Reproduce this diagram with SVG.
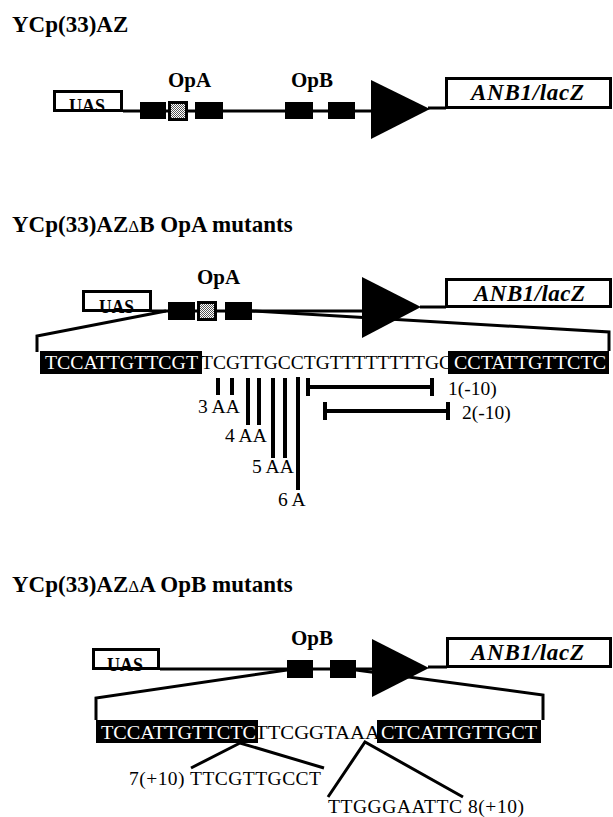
<svg xmlns="http://www.w3.org/2000/svg" width="613" height="817" viewBox="0 0 613 817">
<style>
text{font-family:"Liberation Serif","Times New Roman",serif;fill:#000}
.title{font-weight:bold;font-size:23px}
.op{font-weight:bold;font-size:21px}
.uas{font-weight:bold;font-size:19px}
.gene{font-weight:bold;font-style:italic;font-size:23px}
.seq{font-size:19.5px}
.w{fill:#fff}
.delta{font-weight:normal;font-size:17px}
.box{fill:#fff;stroke:#000;stroke-width:3}
.blk{fill:#000}
.hat{fill:url(#dots);stroke:#000;stroke-width:3}
.ln{fill:none;stroke:#000;stroke-width:3}
.bar{fill:none;stroke:#000;stroke-width:4}
</style>
<defs>
<pattern id="dots" width="2" height="2" patternUnits="userSpaceOnUse">
<rect width="2" height="2" fill="#fff"/>
<rect width="1" height="1" fill="#555"/>
<rect x="1" y="1" width="1" height="1" fill="#555"/>
</pattern>
</defs>

<!-- Section 1 -->
<g id="title1"><text class="title" x="12" y="32">YCp(33)AZ</text></g>
<g id="labels1">
<text class="op" x="168" y="87">OpA</text>
<text class="op" x="291" y="87">OpB</text>
</g>
<g id="connectors1">
<path class="ln" d="M123 111 H372"/>
<path class="ln" d="M428 108 H446"/>
</g>
<g id="uas1"><rect class="box" x="54.5" y="91.5" width="67" height="19"/><text class="uas" x="69" y="112" textLength="36" lengthAdjust="spacingAndGlyphs">UAS</text><path class="ln" d="M53 110.5 H123"/></g>
<g id="opa1">
<rect class="blk" x="140" y="102" width="26" height="17"/>
<rect class="hat" x="169.5" y="102.5" width="17" height="17"/>
<rect class="blk" x="195" y="102" width="28" height="17"/>
</g>
<g id="opb1">
<rect class="blk" x="285" y="102" width="28" height="17"/>
<rect class="blk" x="328" y="102" width="27" height="17"/>
</g>
<g id="prom1"><polygon class="blk" points="371,80 430,109 371,139"/></g>
<g id="gene1"><rect class="box" x="446.5" y="78.5" width="164" height="29"/><text class="gene" x="471" y="100" textLength="113">ANB1/lacZ</text></g>

<!-- Section 2 -->
<g id="title2"><text class="title" x="12" y="232">YCp(33)AZ<tspan class="delta">Δ</tspan>B OpA mutants</text></g>
<g id="labels2"><text class="op" x="197" y="284">OpA</text></g>
<g id="connectors2">
<path class="ln" d="M152 311 H363"/>
<path class="ln" d="M420 307 H446"/>
<path class="ln" d="M166 311 L37 336 V352"/>
<path class="ln" d="M252 311 L609 332 V351"/>
</g>
<g id="uas2"><rect class="box" x="83.5" y="291.5" width="67" height="19"/><text class="uas" x="99" y="313" textLength="35" lengthAdjust="spacingAndGlyphs">UAS</text><path class="ln" d="M82 310.5 H152"/></g>
<g id="opa2">
<rect class="blk" x="168" y="302" width="27" height="18"/>
<rect class="hat" x="198.5" y="302.5" width="17" height="17"/>
<rect class="blk" x="225" y="302" width="27" height="18"/>
</g>
<g id="prom2"><polygon class="blk" points="362,277 421,307 362,338"/></g>
<g id="gene2"><rect class="box" x="446.5" y="279.5" width="164" height="27"/><text class="gene" x="474" y="301" textLength="111">ANB1/lacZ</text></g>

<g id="seq2">
<text class="seq" x="201" y="369" textLength="251" lengthAdjust="spacingAndGlyphs">TCGTTGCCTGTTTTTTTTGC</text>
<rect class="blk" x="40" y="351" width="162" height="23"/>
<text class="seq w" x="45" y="369" textLength="153" lengthAdjust="spacingAndGlyphs">TCCATTGTTCGT</text>
<rect class="blk" x="448" y="351" width="161" height="23"/>
<text class="seq w" x="454" y="369" textLength="152" lengthAdjust="spacingAndGlyphs">CCTATTGTTCTC</text>
</g>

<g id="mut3"><path class="bar" d="M218 378 V395 M232 378 V395"/><text class="seq" x="198" y="413">3 AA</text></g>
<g id="mut4"><path class="bar" d="M248 378 V425 M259 378 V425"/><text class="seq" x="225" y="442">4 AA</text></g>
<g id="mut5"><path class="bar" d="M273 378 V458 M285 378 V458"/><text class="seq" x="252" y="473">5 AA</text></g>
<g id="mut6"><path class="bar" d="M298 377 V490"/><text class="seq" x="278" y="506">6 A</text></g>
<g id="mut1"><path class="bar" d="M308 387 H432 M308 378 V396 M432 378 V396"/><text class="seq" x="448" y="395">1(-10)</text></g>
<g id="mut2"><path class="bar" d="M325 411 H448 M325 402 V420 M448 402 V420"/><text class="seq" x="462" y="419">2(-10)</text></g>

<!-- Section 3 -->
<g id="title3"><text class="title" x="12" y="592">YCp(33)AZ<tspan class="delta">Δ</tspan>A OpB mutants</text></g>
<g id="labels3"><text class="op" x="291" y="645">OpB</text></g>
<g id="connectors3">
<path class="ln" d="M160 669 H373"/>
<path class="ln" d="M428 667 H447"/>
<path class="ln" d="M287 670 L96 698 V720"/>
<path class="ln" d="M356 670 L543 695 V720"/>
<path class="ln" d="M191 768 L240 743 L324 768"/>
<path class="ln" d="M328 797 L365 742 L463 797"/>
</g>
<g id="uas3"><rect class="box" x="93.5" y="649.5" width="65" height="19"/><text class="uas" x="107" y="671" textLength="36" lengthAdjust="spacingAndGlyphs">UAS</text><path class="ln" d="M92 668.5 H160"/></g>
<g id="opb3">
<rect class="blk" x="287" y="660" width="26" height="18"/>
<rect class="blk" x="330" y="660" width="26" height="18"/>
</g>
<g id="prom3"><polygon class="blk" points="372,639 429,668 372,697"/></g>
<g id="gene3"><rect class="box" x="447.5" y="638.5" width="163" height="28"/><text class="gene" x="471" y="660" textLength="113">ANB1/lacZ</text></g>

<g id="seq3">
<text class="seq" x="255" y="739" textLength="125" lengthAdjust="spacingAndGlyphs">TTCGGTAAA</text>
<rect class="blk" x="96" y="720" width="162" height="23"/>
<text class="seq w" x="101" y="739" textLength="155" lengthAdjust="spacingAndGlyphs">TCCATTGTTCTC</text>
<rect class="blk" x="377" y="720" width="164" height="23"/>
<text class="seq w" x="381" y="739" textLength="156" lengthAdjust="spacingAndGlyphs">CTCATTGTTGCT</text>
</g>
<g id="mut7"><text class="seq" x="129" y="785" textLength="192">7(+10) TTCGTTGCCT</text></g>
<g id="mut8"><text class="seq" x="328" y="813" textLength="196">TTGGGAATTC 8(+10)</text></g>
</svg>
